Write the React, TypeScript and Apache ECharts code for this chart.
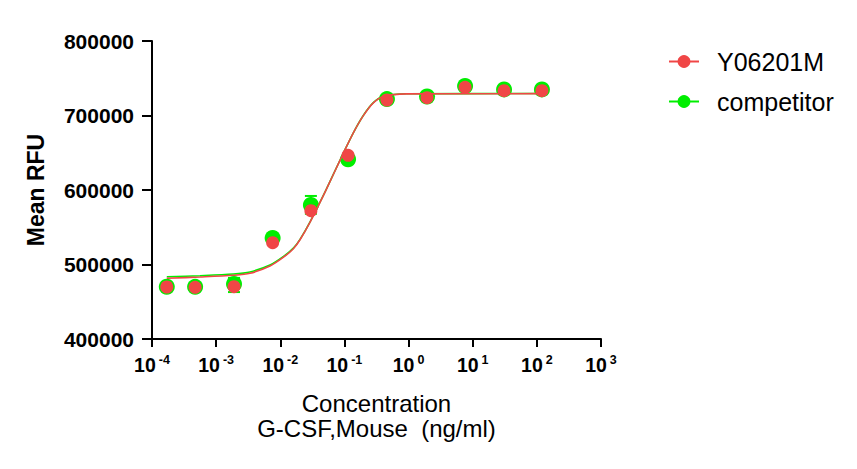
import React, { useEffect, useRef } from "react";
import * as echarts from "echarts";

// concentrations (ng/ml) of measured points
const conc = [0.00017, 0.00047, 0.0019, 0.0076, 0.03, 0.114, 0.46, 1.94, 7.6, 30.8, 120];
// mean RFU
const y06201M = [469800, 469400, 470200, 529300, 572200, 646600, 720800, 723900, 737800, 733300, 733300];
const competitor = [470200, 470000, 473800, 535600, 580000, 641200, 722000, 725500, 739600, 735000, 735000];
// competitor error bars: [conc, low, high]
const competitorErr = [
  [0.0019, 463000, 482000],
  [0.03, 568000, 592000],
];
// fitted curves
const fitConc = [0.00017, 0.00056, 0.00185, 0.00337, 0.0069, 0.0111, 0.016, 0.0203, 0.029, 0.0469, 0.0671, 0.0962, 0.137, 0.197, 0.282, 0.404, 0.935, 120];
const fitY06201M = [481500, 483200, 485500, 488200, 498000, 509500, 521200, 533200, 556600, 592400, 620800, 649300, 676400, 699800, 717000, 725600, 729000, 729300];
const fitCompetitor = [483500, 485000, 487200, 490000, 499300, 510500, 522000, 533800, 557000, 592700, 621000, 649500, 676500, 700000, 717200, 725800, 729200, 729500];
// axis ticks
const xMin = 1e-4;
const xMax = 1e3;
const yTicks = [400000, 500000, 600000, 700000, 800000];

const RED = "#f04646";
const GREEN = "#00ee00";
const FONT = 'Arial, "Liberation Sans", sans-serif';

const pairs = (xs: number[], ys: number[]) => xs.map((x, i) => [x, ys[i]]);

export default function App() {
  const ref = useRef<HTMLDivElement>(null);
  useEffect(() => {
    if (!ref.current) return;
    const chart = echarts.init(ref.current, undefined, { renderer: "svg" });
    chart.setOption({
      animation: false,
      backgroundColor: "#ffffff",
      grid: { left: 152, right: 256, top: 41, bottom: 130 },
      legend: {
        orient: "vertical",
        left: 663,
        top: 44,
        itemWidth: 30,
        itemHeight: 16,
        itemGap: 15,
        data: ["Y06201M", "competitor"],
        textStyle: { fontFamily: FONT, fontSize: 25, color: "#000", padding: [0, 0, 0, 13] },
      },
      xAxis: {
        type: "log",
        logBase: 10,
        min: xMin,
        max: xMax,
        name: "Concentration\nG-CSF,Mouse  (ng/ml)",
        nameLocation: "middle",
        nameGap: 52,
        nameTextStyle: { fontFamily: FONT, fontSize: 24, color: "#000", lineHeight: 25 },
        axisLine: { lineStyle: { color: "#000", width: 2 } },
        axisTick: { show: true, length: 8, lineStyle: { color: "#000", width: 2 } },
        splitLine: { show: false },
        minorTick: { show: false },
        axisLabel: {
          margin: 14,
          formatter: (v: number) => `{b|10}{s|${Math.round(Math.log10(v))}}`,
          rich: {
            b: { fontFamily: FONT, fontSize: 19.5, fontWeight: "bold", color: "#000" },
            s: { fontFamily: FONT, fontSize: 12.5, fontWeight: "bold", color: "#000", padding: [0, 0, 11, 3] },
          },
        },
      },
      yAxis: {
        type: "value",
        min: yTicks[0],
        max: yTicks[yTicks.length - 1],
        interval: yTicks[1] - yTicks[0],
        name: "Mean RFU",
        nameLocation: "middle",
        nameGap: 105,
        nameTextStyle: { fontFamily: FONT, fontSize: 23, fontWeight: "bold", color: "#000" },
        axisLine: { show: true, lineStyle: { color: "#000", width: 2 } },
        axisTick: { show: true, length: 10, lineStyle: { color: "#000", width: 2 } },
        splitLine: { show: false },
        axisLabel: {
          margin: 18,
          formatter: (v: number) => String(v),
          fontFamily: FONT,
          fontSize: 21,
          fontWeight: "bold",
          color: "#000",
        },
      },
      series: [
        {
          name: "competitor",
          type: "line",
          data: pairs(fitConc, fitCompetitor),
          smooth: 0.3,
          symbol: "circle",
          showSymbol: false,
          lineStyle: { color: GREEN, width: 1.6 },
          itemStyle: { color: GREEN },
          z: 2,
        },
        {
          name: "competitor",
          type: "custom",
          data: competitorErr,
          z: 3,
          renderItem: (params: any, api: any) => {
            const x = api.value(0);
            const lo = api.coord([x, api.value(1)]);
            const hi = api.coord([x, api.value(2)]);
            const w = 6;
            const style = { stroke: GREEN, lineWidth: 2 };
            return {
              type: "group",
              children: [
                { type: "line", shape: { x1: lo[0], y1: lo[1], x2: hi[0], y2: hi[1] }, style },
                { type: "line", shape: { x1: lo[0] - w, y1: lo[1], x2: lo[0] + w, y2: lo[1] }, style },
                { type: "line", shape: { x1: hi[0] - w, y1: hi[1], x2: hi[0] + w, y2: hi[1] }, style },
              ],
            };
          },
        },
        {
          name: "competitor",
          type: "scatter",
          data: pairs(conc, competitor),
          symbol: "circle",
          symbolSize: 16,
          itemStyle: { color: GREEN, opacity: 1 },
          z: 4,
        },
        {
          name: "Y06201M",
          type: "line",
          data: pairs(fitConc, fitY06201M),
          smooth: 0.3,
          symbol: "circle",
          showSymbol: false,
          lineStyle: { color: RED, width: 1.6 },
          itemStyle: { color: RED },
          z: 5,
        },
        {
          name: "Y06201M",
          type: "scatter",
          data: pairs(conc, y06201M),
          symbol: "circle",
          symbolSize: 13,
          itemStyle: { color: RED, opacity: 1 },
          z: 6,
        },
      ],
    });
    return () => chart.dispose();
  }, []);
  return (
    <div
      ref={ref}
      style={{ position: "absolute", left: 0, top: 0, width: 857, height: 469 }}
    />
  );
}
